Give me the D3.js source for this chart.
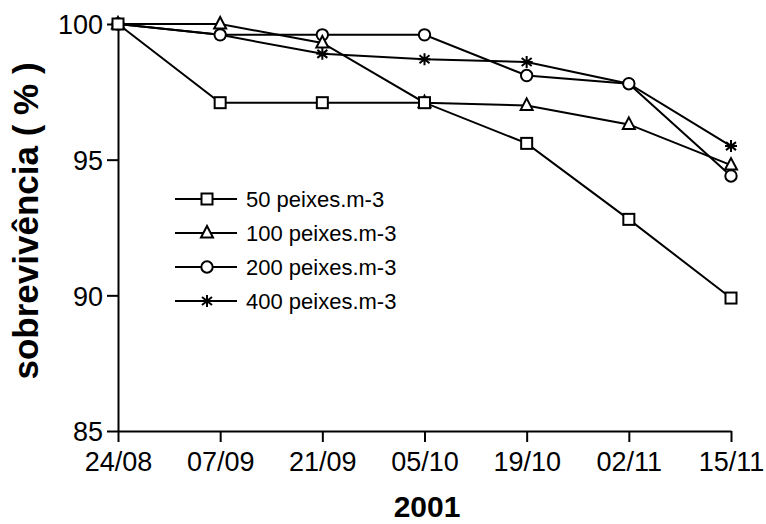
<!doctype html>
<html>
<head>
<meta charset="UTF-8">
<title>sobrevivencia</title>
<script src="https://d3js.org/d3.v7.min.js"></script>
<style>
  body { margin: 0; background: #fff; }
  text { font-family: "Liberation Sans", Arial, sans-serif; fill: #000; }
</style>
</head>
<body>
<script>
// datas de amostragem (2001)
var datas = ["24/08", "07/09", "21/09", "05/10", "19/10", "02/11", "15/11"];
var yTicks = [85, 90, 95, 100];

// sobrevivencia (%) por densidade
var s50  = [100, 97.1, 97.1, 97.1, 95.6, 92.8, 89.9];
var s100 = [100, 100, 99.3, 97.1, 97.0, 96.3, 94.8];
var s200 = [100, 99.6, 99.6, 99.6, 98.1, 97.8, 94.4];
var s400 = [100, 99.6, 98.9, 98.7, 98.6, 97.8, 95.5];

var nomes = ["50 peixes.m-3", "100 peixes.m-3", "200 peixes.m-3", "400 peixes.m-3"];
var simbolos = ["square", "triangle", "circle", "star"];

var w = 766, h = 524;
var x0 = 118, x1 = 731, y0 = 431, y1 = 24;

var svg = d3.select("body").append("svg")
    .attr("width", w)
    .attr("height", h);

var x = d3.scalePoint().domain(datas).range([x0, x1]);
var y = d3.scaleLinear().domain([85, 100]).range([y0, y1]);

// eixo y
var gy = svg.append("g")
    .attr("transform", "translate(" + x0 + ",0)")
    .call(d3.axisLeft(y).tickValues(yTicks).tickSize(11).tickPadding(4).tickSizeOuter(0));
// eixo x
var gx = svg.append("g")
    .attr("transform", "translate(0," + y0 + ")")
    .call(d3.axisBottom(x).tickSize(11).tickPadding(10).tickSizeOuter(0));

[gx, gy].forEach(function(g){
    g.select(".domain").attr("stroke", "#000").attr("stroke-width", 2);
    g.selectAll(".tick line").attr("stroke", "#000").attr("stroke-width", 2);
    g.selectAll(".tick text")
        .attr("font-family", "Liberation Sans, Arial, sans-serif")
        .attr("font-size", 27)
        .attr("fill", "#000");
});
gy.selectAll(".tick text").attr("dy", "0.36em");

// titulos
svg.append("text")
    .attr("transform", "translate(38,221) rotate(-90)")
    .attr("text-anchor", "middle")
    .attr("font-weight", "bold")
    .attr("font-size", 35)
    .text("sobrevivência ( % )");

svg.append("text")
    .attr("x", 427)
    .attr("y", 517)
    .attr("text-anchor", "middle")
    .attr("font-weight", "bold")
    .attr("font-size", 30)
    .text("2001");

function marker(g, tipo, cx, cy){
    if (tipo == "square") {
        g.append("rect").attr("x", cx - 5.5).attr("y", cy - 5.5)
            .attr("width", 11).attr("height", 11)
            .attr("fill", "#fff").attr("stroke", "#000").attr("stroke-width", 2);
    } else if (tipo == "triangle") {
        g.append("path")
            .attr("d", "M" + cx + "," + (cy - 7) + "L" + (cx + 6) + "," + (cy + 4.5) + "L" + (cx - 6) + "," + (cy + 4.5) + "Z")
            .attr("fill", "#fff").attr("stroke", "#000").attr("stroke-width", 2);
    } else if (tipo == "circle") {
        g.append("circle").attr("cx", cx).attr("cy", cy).attr("r", 5.7)
            .attr("fill", "#fff").attr("stroke", "#000").attr("stroke-width", 2);
    } else {
        g.append("path")
            .attr("transform", "translate(" + cx + "," + cy + ")")
            .attr("d", "M0,-6L0,6M-5,-4L5,4M-5,4L5,-4M-6,0L6,0")
            .attr("fill", "none").attr("stroke", "#000").attr("stroke-width", 2);
    }
}

var series = [s50, s100, s200, s400];
var line = d3.line()
    .x(function(d, i){ return x(datas[i]); })
    .y(function(d){ return y(d); });

// ordem de desenho: 400, 200, 100, 50 (quadrados por cima)
[3, 2, 1, 0].forEach(function(k){
    var s = series[k];
    var g = svg.append("g");
    g.append("path")
        .attr("d", line(s))
        .attr("fill", "none")
        .attr("stroke", "#000")
        .attr("stroke-width", 2);
    s.forEach(function(v, i){
        marker(g, simbolos[k], x(datas[i]), y(v));
    });
});

// legenda
var leg = svg.append("g");
nomes.forEach(function(n, k){
    var ly = 199 + k * 34;
    leg.append("line")
        .attr("x1", 175).attr("x2", 237)
        .attr("y1", ly).attr("y2", ly)
        .attr("stroke", "#000").attr("stroke-width", 2);
    marker(leg, simbolos[k], 207, ly);
    leg.append("text")
        .attr("x", 246).attr("y", ly)
        .attr("dy", "0.36em")
        .attr("font-size", 22)
        .text(n);
});
</script>
</body>
</html>
